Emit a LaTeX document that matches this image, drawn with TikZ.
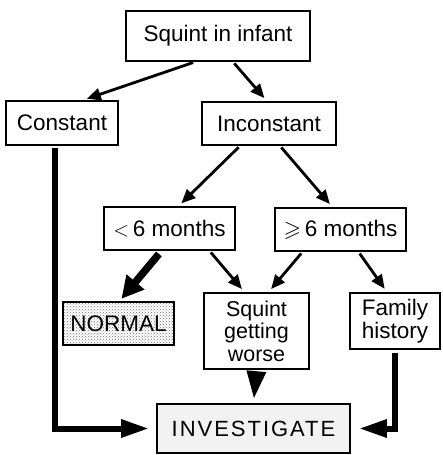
\documentclass[tikz,border=0pt]{standalone}
\usepackage{fontspec}
\usepackage{amssymb}
\setmainfont{Liberation Sans}
\usetikzlibrary{positioning}
\usetikzlibrary{arrows.meta,patterns}

\begin{document}
\begin{tikzpicture}[
x=1pt,y=-1pt,
box/.style = {
  draw,
  line width=1.8pt,
  inner sep=0pt,
  align=center,
  font=\fontsize{22.5}{22}\selectfont},
line/.style = {draw=black, line width=2.8pt, shorten <=2pt, shorten >=4pt,
  -{Triangle[length=14pt,width=12pt]}},
heavy/.style = {draw=black, line width=6pt,
  -{Triangle[length=28pt,width=17pt]}},
]
\useasboundingbox (0,0) rectangle (442,455);
\node[box, minimum width=184pt, minimum height=50pt] (squint) at (218,36) {Squint in infant};
\node[box, minimum width=112pt, minimum height=44pt] (constant) at (62,123) {Constant};
\node[box, minimum width=134pt, minimum height=43pt] (inconstant) at (269,123.5) {Inconstant};
\node[box, minimum width=131pt, minimum height=43pt] (young) at (169.5,228.5) {$<$\,6 months};
\node[box, minimum width=131pt, minimum height=43pt] (older) at (340.5,229.5) {$\geqslant$\,6 months};
\node[box, minimum width=111pt, minimum height=43pt, pattern=crosshatch dots, pattern color=black!55] (normal) at (118.5,323.5) {NORMAL};
\node[box, minimum width=105pt, minimum height=76pt, font=\fontsize{21.5}{22.5}\selectfont] (worse) at (256.5,331) {Squint\\getting\\worse};
\node[box, minimum width=90pt, minimum height=56pt, font=\fontsize{22.5}{23}\selectfont] (family) at (395,321) {Family\\history};
\node[box, minimum width=193pt, minimum height=49pt, fill=black!5, font=\fontsize{22}{22}\addfontfeatures{LetterSpace=9}] (investigate) at (253.5,428.5) {INVESTIGATE};

 \begin{scope}[every path/.style=line]
\path ([xshift=-23pt]squint.south) -- ([xshift=21pt]constant.north);
\path ([xshift=15pt]squint.south) -- ([xshift=-2pt]inconstant.north);
\path ([xshift=-29pt]inconstant.south) -- ([xshift=9pt]young.north);
\path ([xshift=11pt]inconstant.south) -- ([xshift=-8pt]older.north);
\path ([xshift=40pt]young.south) -- ([xshift=-12pt]worse.north);
\path ([xshift=-38pt]older.south) -- ([xshift=12pt]worse.north);
\path ([xshift=18pt]older.south) -- ([xshift=-8pt]family.north);
\end{scope}

\draw[heavy, line width=7.5pt, shorten <=4pt, shorten >=3pt, -{Triangle[length=22pt,width=22pt]}]
  ([xshift=-8pt]young.south) -- ([xshift=1pt]normal.north);
\draw[heavy, shorten <=3pt, shorten >=4pt, -{Triangle[length=28pt,width=18pt]}]
  (worse.south) -- (investigate.north);
\draw[heavy, shorten <=2pt, shorten >=7pt] ([xshift=-7.5pt]constant.south) |- (investigate.west);
\draw[heavy, shorten <=3pt, shorten >=8pt] (family.south) |- (investigate.east);

\end{tikzpicture}
\end{document}
